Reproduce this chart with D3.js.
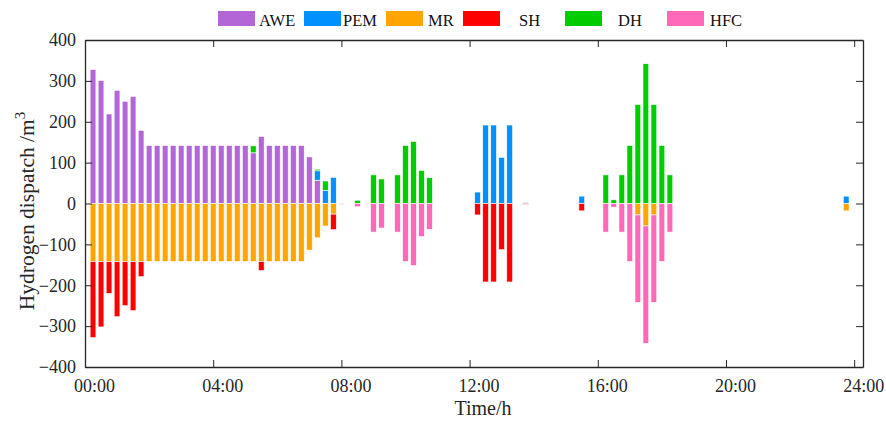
<!DOCTYPE html>
<html>
<head>
<meta charset="utf-8">
<script src="https://cdn.jsdelivr.net/npm/d3@7"></script>
<style>
  body { margin: 0; background: #fff; }
  text { font-family: "Liberation Serif", "Times New Roman", serif; }
</style>
</head>
<body>
<script>

var width  = 886;
var height = 421;

// 96 quarter-hour slots, slot k is drawn at k * 15 min
var slots = d3.range(1, 97);

var awe = [ 328, 301, 219, 277, 250, 262, 179, 142, 142, 142, 142, 142,
            142, 142, 142, 142, 142, 142, 142, 142, 124, 164, 142, 142,
            142, 142, 142, 114,  57,   0,   0,   0,   0,   0,   0,   0,
              0,   0,   0,   0,   0,   0,   0,   0,   0,   0,   0,   0,
              0,   0,   0,   0,   0,   0,   0,   0,   0,   0,   0,   0,
              0,   0,   0,   0,   0,   0,   0,   0,   0,   0,   0,   0,
              0,   0,   0,   0,   0,   0,   0,   0,   0,   0,   0,   0,
              0,   0,   0,   0,   0,   0,   0,   0,   0,   0,   0,   0 ];

var pem = [   0,   0,   0,   0,   0,   0,   0,   0,   0,   0,   0,   0,
              0,   0,   0,   0,   0,   0,   0,   0,   0,   0,   0,   0,
              0,   0,   0,   0,  23,  32,  64,   0,   0,   0,   0,   0,
              0,   0,   0,   0,   0,   0,   0,   0,   0,   0,   0,   0,
             28, 192, 192, 113, 192,   0,   2,   0,   0,   0,   0,   0,
              0,  18,   0,   0,   0,   0,   0,   0,   0,   0,   0,   0,
              0,   0,   0,   0,   0,   0,   0,   0,   0,   0,   0,   0,
              0,   0,   0,   0,   0,   0,   0,   0,   0,   0,  18,   0 ];

var mr  = [ -142,-142,-142,-142,-142,-142,-142,-142,-142,-142,-142,-142,
            -142,-142,-142,-142,-142,-142,-142,-142,-142,-142,-142,-142,
            -142,-142,-142,-114, -84, -55, -26,   0,   0,   0,   0,   0,
               0,   0,   0,   0,   0,   0,   0,   0,   0,   0,   0,   0,
               0,   0,   0,   0,   0,   0,   0,   0,   0,   0,   0,   0,
               0,   0,   0,   0,   0,   0,   0,   0, -28, -55, -28,   0,
               0,   0,   0,   0,   0,   0,   0,   0,   0,   0,   0,   0,
               0,   0,   0,   0,   0,   0,   0,   0,   0,   0, -18,   0 ];

var sh  = [ -186,-160, -78,-135,-108,-120, -37,   0,   0,   0,   0,   0,
               0,   0,   0,   0,   0,   0,   0,   0,   0, -22,   0,   0,
               0,   0,   0,   0,   0,   0, -38,   0,   0,   0,   0,   0,
               0,   0,   0,   0,   0,   0,   0,   0,   0,   0,   0,   0,
             -28,-192,-192,-113,-192,   0,  -2,   0,   0,   0,   0,   0,
               0, -18,   0,   0,   0,   0,   0,   0,   0,   0,   0,   0,
               0,   0,   0,   0,   0,   0,   0,   0,   0,   0,   0,   0,
               0,   0,   0,   0,   0,   0,   0,   0,   0,   0,   0,   0 ];

var dh  = [   0,   0,   0,   0,   0,   0,   0,   0,   0,   0,   0,   0,
              0,   0,   0,   0,   0,   0,   0,   0,  17,   0,   0,   0,
              0,   0,   0,   0,   4,  23,   0,   0,   0,   8,   0,  70,
             60,   0,  70, 142, 152,  81,  63,   0,   0,   0,   0,   0,
              0,   0,   0,   0,   0,   0,   0,   0,   0,   0,   0,   0,
              0,   0,   0,   0,  70,   9,  70, 142, 242, 342, 242, 142,
             70,   0,   0,   0,   0,   0,   0,   0,   0,   0,   0,   0,
              0,   0,   0,   0,   0,   0,   0,   0,   0,   0,   0,   0 ];

var hfc = [   0,   0,   0,   0,   0,   0,   0,   0,   0,   0,   0,   0,
              0,   0,   0,   0,   0,   0,   0,   0,   0,   0,   0,   0,
              0,   0,   0,   0,   0,   0,   0,  -2,   0,  -8,   0, -70,
            -60,   0, -70,-142,-152, -81, -63,   0,   0,   0,   0,   0,
              0,   0,   0,   0,   0,   0,   0,   0,   0,   0,   0,   0,
              0,   0,   0,   0, -70,  -9, -70,-142,-214,-287,-214,-142,
            -70,   0,   0,   0,   0,   0,   0,   0,   0,   0,   0,   0,
              0,   0,   0,   0,   0,   0,   0,   0,   0,   0,   0,   0 ];

var seriesNames  = ['AWE', 'PEM', 'MR', 'SH', 'DH', 'HFC'];
var seriesValues = [ awe,   pem,   mr,   sh,   dh,   hfc ];
var colors       = ['#b366d6', '#0091ff', '#ffa500', '#ff0000', '#00cc00', '#ff69b8'];

var xTickValues = [0, 16, 32, 48, 64, 80, 96];
var xTickLabels = ['00:00', '04:00', '08:00', '12:00', '16:00', '20:00', '24:00'];
var yTickValues = [-400, -300, -200, -100, 0, 100, 200, 300, 400];

// legend layout (swatch x, label x)
var legendSwatchX = [218, 304, 386, 463, 565, 667];
var legendTextX   = [259, 343, 428, 519, 618, 710];

var margin = { left: 85, right: 23, top: 40, bottom: 54 };
var axisColor = '#262626';

var table = slots.map(function(s, i){
  var row = { slot: s };
  seriesNames.forEach(function(n, j){ row[n] = seriesValues[j][i]; });
  return row;
});

var stack = d3.stack()
              .keys(seriesNames)
              .offset(d3.stackOffsetDiverging);
var layers = stack(table);

var x = d3.scaleLinear()
          .domain([0, 97.1])
          .range([margin.left, width - margin.right]);

var y = d3.scaleLinear()
          .domain([-400, 400])
          .range([height - margin.bottom, margin.top]);

var barWidth = (x(1) - x(0)) * 0.72;

var svg = d3.select('body')
            .append('svg')
            .attr('width', width)
            .attr('height', height);

svg.append('g')
   .selectAll('g')
   .data(layers)
   .enter()
   .append('g')
   .attr('fill', function(d, i){ return colors[i]; })
   .selectAll('rect')
   .data(function(d){ return d.filter(function(p){ return p[1] - p[0] !== 0; }); })
   .enter()
   .append('rect')
   .attr('x',      function(d){ return x(d.data.slot) - barWidth / 2; })
   .attr('y',      function(d){ return y(Math.max(d[0], d[1])); })
   .attr('width',  barWidth)
   .attr('height', function(d){ return Math.abs(y(d[0]) - y(d[1])); })
   .attr('stroke', '#fff')
   .attr('stroke-width', 0.6);

// axes, ticks pointing inward on all four sides
var xBottom = d3.axisBottom(x)
                .tickValues(xTickValues)
                .tickFormat(function(d, i){ return xTickLabels[i]; })
                .tickSizeInner(-7)
                .tickSizeOuter(0)
                .tickPadding(12);
var xTop = d3.axisTop(x).tickValues(xTickValues).tickFormat('')
             .tickSizeInner(-7).tickSizeOuter(0);
var yLeft = d3.axisLeft(y)
              .tickValues(yTickValues)
              .tickSizeInner(-7)
              .tickSizeOuter(0)
              .tickPadding(9);
var yRight = d3.axisRight(y).tickValues(yTickValues).tickFormat('')
               .tickSizeInner(-7).tickSizeOuter(0);

function styleAxis(g){
  g.select('.domain').attr('stroke', axisColor).attr('stroke-width', 1.3);
  g.selectAll('.tick line').attr('stroke', axisColor).attr('stroke-width', 1);
  g.selectAll('.tick text')
   .attr('fill', axisColor)
   .style('font-family', '"Liberation Serif", "Times New Roman", serif')
   .style('font-size', '18px');
}

svg.append('g').attr('transform', 'translate(0,' + (height - margin.bottom) + ')')
   .call(xBottom).call(styleAxis)
   .selectAll('.tick text').attr('dx', 9);
svg.append('g').attr('transform', 'translate(0,' + margin.top + ')').call(xTop).call(styleAxis);
svg.append('g').attr('transform', 'translate(' + margin.left + ',0)').call(yLeft).call(styleAxis);
svg.append('g').attr('transform', 'translate(' + (width - margin.right) + ',0)').call(yRight).call(styleAxis);

// axis titles
svg.append('text')
   .attr('x', 483)
   .attr('y', 415)
   .attr('text-anchor', 'middle')
   .attr('fill', axisColor)
   .style('font-size', '20px')
   .text('Time/h');

var yTitle = svg.append('text')
   .attr('transform', 'translate(34,211) rotate(-90)')
   .attr('text-anchor', 'middle')
   .attr('fill', axisColor)
   .style('font-size', '21.5px');
yTitle.append('tspan').text('Hydrogen dispatch /m');
yTitle.append('tspan').attr('dy', -9).style('font-size', '15px').text('3');

// legend
var legend = svg.append('g')
                .selectAll('g')
                .data(seriesNames)
                .enter()
                .append('g');

legend.append('rect')
      .attr('x', function(d, i){ return legendSwatchX[i]; })
      .attr('y', 11)
      .attr('width', 37)
      .attr('height', 15)
      .attr('fill', function(d, i){ return colors[i]; });

legend.append('text')
      .attr('x', function(d, i){ return legendTextX[i]; })
      .attr('y', 26)
      .attr('fill', '#111')
      .style('font-size', '16.5px')
      .text(function(d){ return d; });

</script>
</body>
</html>
